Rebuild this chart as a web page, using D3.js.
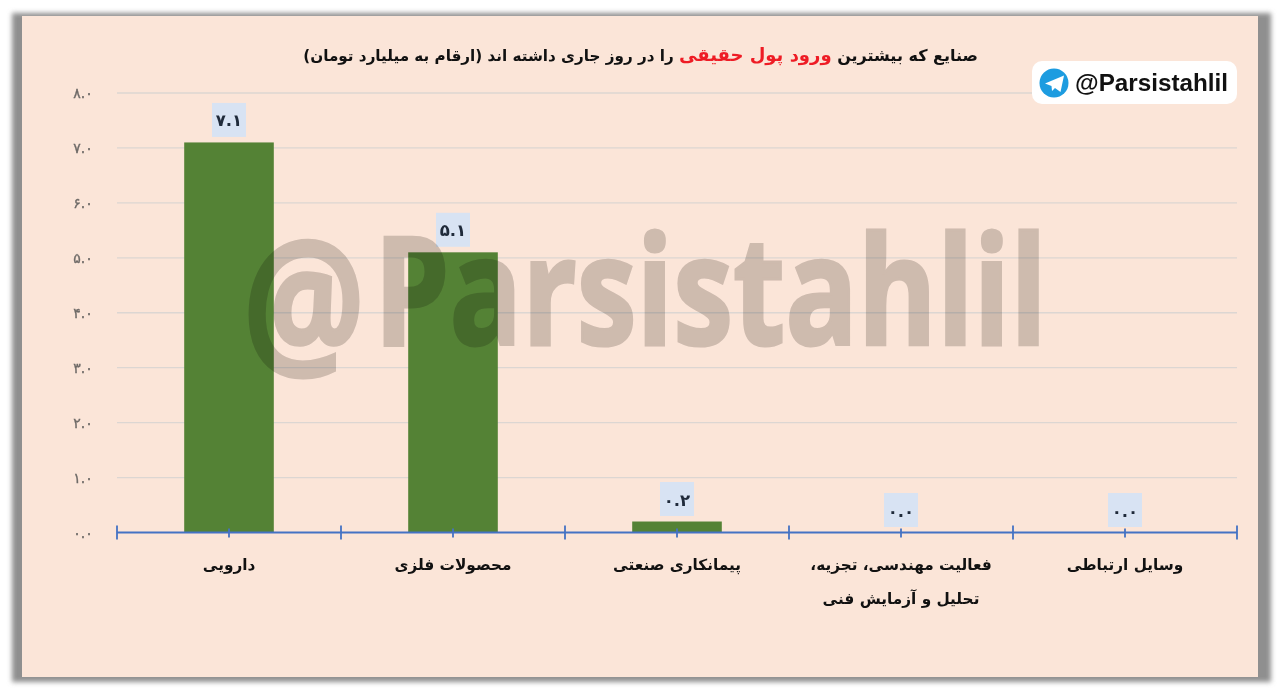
<!DOCTYPE html>
<html><head><meta charset="utf-8">
<script src="https://cdnjs.cloudflare.com/ajax/libs/d3/7.8.5/d3.min.js"></script>
<style>html,body{margin:0;padding:0;background:#fff;overflow:hidden}svg{display:block}</style>
</head><body><svg id="c" width="1280" height="694"></svg>
<script>
const categories = ["دارویی","محصولات فلزی","پیمانکاری صنعتی","فعالیت مهندسی، تجزیه، تحلیل و آزمایش فنی","وسایل ارتباطی"];
const categoryLines = [["دارویی"],["محصولات فلزی"],["پیمانکاری صنعتی"],["فعالیت مهندسی، تجزیه،","تحلیل و آزمایش فنی"],["وسایل ارتباطی"]];
const values = [7.1,5.1,0.2,0.0,0.0];
const yTicks = [0,1,2,3,4,5,6,7,8];
const titleParts = [["صنایع که بیشترین ",16,"#111"],["ورود پول حقیقی",18,"#ee1c25"],[" را در روز جاری داشته اند (ارقام به میلیارد تومان)",15.2,"#111"]];
const fa = "۰۱۲۳۴۵۶۷۸۹";
const toFa = s => s.replace(/\d/g,d=>fa[+d]);
const AR = "'DejaVu Sans',sans-serif";

const svg = d3.select("#c");
const defs = svg.append("defs");
defs.append("filter").attr("id","b").attr("x","-5%").attr("y","-5%").attr("width","110%").attr("height","110%")
  .append("feGaussianBlur").attr("stdDeviation",2.5);

// frame
svg.append("rect").attr("x",12).attr("y",13).attr("width",1259).attr("height",669).attr("fill","#8f8f8f").attr("filter","url(#b)");
svg.append("rect").attr("x",22).attr("y",16).attr("width",1236).attr("height",661).attr("fill","#fbe5d8");

const x = d3.scaleBand().domain(categories).range([117,1237]).padding(0);
const y = d3.scaleLinear().domain([0,8]).range([532.5,93]);
const barW = x.bandwidth()*0.40;

// gridlines
svg.append("g").selectAll("line").data(yTicks.filter(d=>d>0)).join("line")
  .attr("x1",117).attr("x2",1237).attr("y1",d=>y(d)).attr("y2",d=>y(d))
  .attr("stroke","#dcd6d2").attr("stroke-width",1.3);

// y labels
svg.append("g").selectAll("text").data(yTicks).join("text")
  .attr("x",83).attr("y",d=>y(d)+5).attr("text-anchor","middle")
  .attr("font-family",AR).attr("font-size",14).attr("fill","#6f6b68")
  .attr("stroke","#6f6b68").attr("stroke-width",0.35)
  .text(d=>toFa(d.toFixed(1)));

// bars
const cx = d=>x(d)+x.bandwidth()/2;
svg.append("g").selectAll("rect").data(categories).join("rect")
  .attr("x",d=>cx(d)-barW/2).attr("width",barW)
  .attr("y",(d,i)=>y(values[i])).attr("height",(d,i)=>y(0)-y(values[i]))
  .attr("fill","#548235");

// axis
const axis = svg.append("g").attr("stroke","#4472c4").attr("stroke-width",1.8);
axis.append("line").attr("x1",117).attr("x2",1237).attr("y1",y(0)).attr("y2",y(0));
const edges = categories.map(d=>x(d)).concat([1237]);
axis.selectAll(".e").data(edges).join("line").attr("class","e")
  .attr("x1",d=>d).attr("x2",d=>d).attr("y1",y(0)-7).attr("y2",y(0)+7);
axis.selectAll(".m").data(categories).join("line").attr("class","m")
  .attr("x1",cx).attr("x2",cx).attr("y1",y(0)-4).attr("y2",y(0)+5);

// data labels
const lab = svg.append("g").selectAll("g").data(categories).join("g");
lab.append("rect").attr("x",d=>cx(d)-17).attr("width",34).attr("height",34)
  .attr("y",(d,i)=>y(values[i])-39.5).attr("fill","#d8e3f3");
lab.append("text").attr("x",cx).attr("y",(d,i)=>y(values[i])-16)
  .attr("text-anchor","middle").attr("font-family",AR).attr("font-weight","bold")
  .attr("font-size",16.5).attr("fill","#1f2a3a").text((d,i)=>toFa(values[i].toFixed(1)));

// category labels
svg.append("g").selectAll("text").data(categories).join("text")
  .attr("text-anchor","middle").attr("font-family",AR).attr("font-weight","bold")
  .attr("font-size",15.3).attr("fill","#111").attr("direction","rtl")
  .each(function(d,i){
    d3.select(this).selectAll("tspan").data(categoryLines[i]).join("tspan")
      .attr("x",cx(d)).attr("y",(l,j)=>570+j*34).text(l=>l);
  });

// title
const t = svg.append("text").attr("x",978).attr("y",61).attr("direction","rtl").attr("text-anchor","start")
  .attr("font-family",AR).attr("font-weight","bold").attr("fill","#111");
t.selectAll("tspan").data(titleParts).join("tspan").attr("fill",d=>d[2])
  .attr("font-size",d=>d[1]).text(d=>d[0]);

// watermark
const wm = svg.append("g").attr("font-family","'Open Sans',sans-serif").attr("font-weight","bold")
  .attr("fill","#d2d0ce").attr("stroke","#d2d0ce").attr("stroke-width",3).style("mix-blend-mode","multiply");
wm.append("text").attr("x",243).attr("y",364).attr("font-size",172).attr("textLength",122).attr("lengthAdjust","spacingAndGlyphs").text("@");
wm.append("text").attr("x",374).attr("y",345).attr("font-size",150).attr("textLength",673).attr("lengthAdjust","spacingAndGlyphs").text("Parsistahlil");

// badge
svg.append("rect").attr("x",1032).attr("y",61).attr("width",205).attr("height",43).attr("rx",10).attr("fill","#fff");
svg.append("circle").attr("cx",1054).attr("cy",83).attr("r",14.5).attr("fill","#1d9ce0");
svg.append("path").attr("d","M1045 83.5 L1064 75.5 L1060.5 92 L1055 88 L1052 91 L1051.5 86 Z").attr("fill","#fff");
svg.append("text").attr("x",1075).attr("y",91).attr("font-family","'Liberation Sans',sans-serif").attr("font-weight","bold")
  .attr("font-size",23).attr("textLength",153).attr("lengthAdjust","spacingAndGlyphs").attr("fill","#111").text("@Parsistahlil");
</script></body></html>
